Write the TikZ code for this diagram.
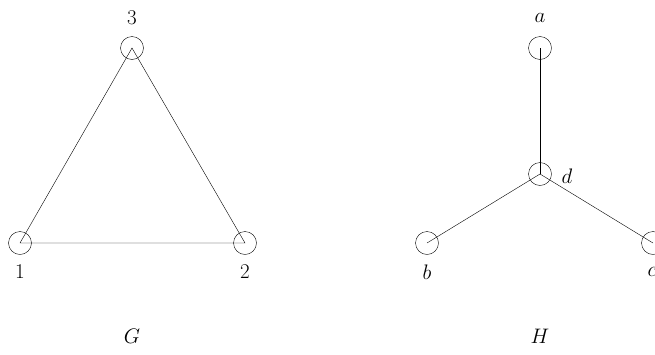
\RequirePackage{fix-cm}
\documentclass[tikz,border=0pt]{standalone}
\begin{document}
\begin{tikzpicture}[x=1pt,y=-1pt,
  vert/.style={circle,draw,minimum size=23pt,inner sep=0pt},
  lbl/.style={font=\fontsize{21}{24}\selectfont}]
\useasboundingbox (0,0) rectangle (655,354);
\node[vert] (n1) at (20,243) {};
\node[vert] (n2) at (245,243) {};
\node[vert] (n3) at (132,48) {};
\draw (n1.center) -- (n2.center) -- (n3.center) -- (n1.center);
\node[lbl] (l3) at (132,18) {3};
\node[lbl] (l1) at (20,272) {1};
\node[lbl] (l2) at (245,272) {2};
\node[lbl] (g) at (132,336) {$G$};
\node[vert] (a) at (540,48) {};
\node[vert] (d) at (540,174) {};
\node[vert] (b) at (427,243) {};
\node[vert] (c) at (653,243) {};
\draw (a.center) -- (d.center);
\draw (b.center) -- (d.center) -- (c.center);
\node[lbl] (la) at (540,18) {$a$};
\node[lbl] (ld) at (567,176) {$d$};
\node[lbl] (lb) at (427,272) {$b$};
\node[lbl] (lc) at (652,272) {$c$};
\node[lbl] (h) at (540,336) {$H$};
\end{tikzpicture}
\end{document}
